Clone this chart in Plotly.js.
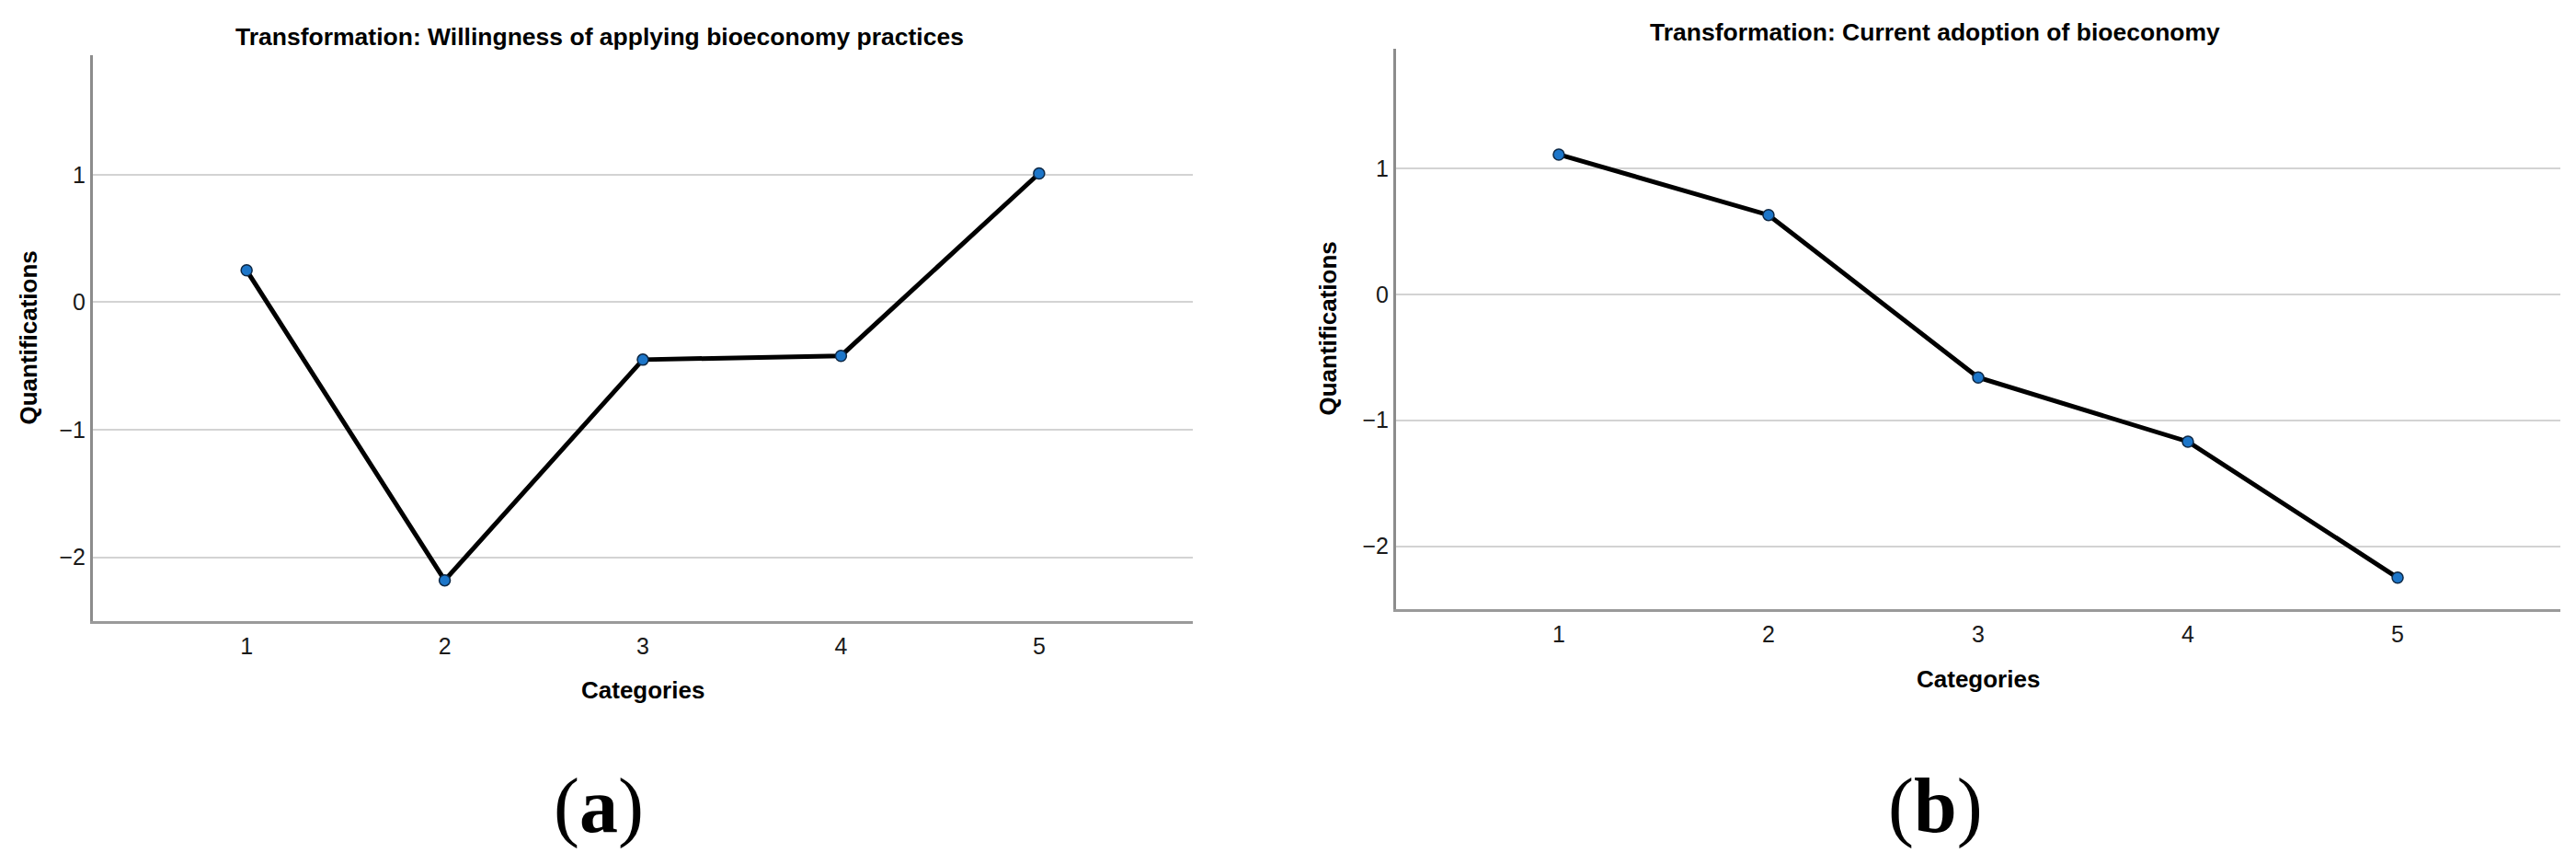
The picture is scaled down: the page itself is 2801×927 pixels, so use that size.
<!DOCTYPE html>
<html>
<head>
<meta charset="utf-8">
<script src="https://cdn.plot.ly/plotly-3.0.1.min.js"></script>
<style>
html,body{margin:0;padding:0;background:#fff;}
#chart{width:2801px;height:927px;}
</style>
</head>
<body>
<div id="chart"></div>
<script>
// ---- data ----
const categories = [1, 2, 3, 4, 5];
const willingnessValues = [0.25, -2.18, -0.45, -0.42, 1.01];
const adoptionValues = [1.11, 0.63, -0.66, -1.17, -2.25];
const yTickValues = [-2, -1, 0, 1];
const yTickLabels = ['\u22122', '\u22121', '0', '1'];
const titleA = 'Transformation: Willingness of applying bioeconomy practices';
const titleB = 'Transformation: Current adoption of bioeconomy';
const xTitle = 'Categories';
const yTitle = 'Quantifications';
const panelLabels = ['a', 'b'];

// ---- styling ----
const W = 2801, H = 927;
const narrow = '"Liberation Sans Narrow", "Arial Narrow", "Liberation Sans", Arial, sans-serif';
const serif = '"Liberation Serif", "Times New Roman", serif';

// plot boxes in pixels
const boxA = {x0: 101, x1: 1297, y0: 60, y1: 675};
const boxB = {x0: 1518, x1: 2784, y0: 53, y1: 662};
const px = v => v / W;
const py = v => 1 - v / H;

function lineTrace(y, xa, ya) {
  return {
    x: categories, y: y, xaxis: xa, yaxis: ya,
    type: 'scatter', mode: 'lines+markers',
    line: {color: '#000000', width: 5},
    marker: {size: 12, color: '#1d76c9', line: {color: '#0d2744', width: 1.5}},
    hoverinfo: 'x+y', showlegend: false
  };
}

function xAxis(box, anchor) {
  return {
    domain: [px(box.x0), px(box.x1)], anchor: anchor,
    range: [0.224, 5.776], tickvals: categories, ticktext: categories.map(String),
    showgrid: false, zeroline: false,
    showline: true, linecolor: '#9a9a9a', linewidth: 3,
    ticks: 'outside', ticklen: 3, tickcolor: 'rgba(0,0,0,0)',
    tickfont: {family: narrow, size: 25, color: '#1a1a1a'},
    fixedrange: true
  };
}
function yAxis(box, anchor, top) {
  return {
    domain: [py(box.y1), py(box.y0)], anchor: anchor,
    range: [-2.5, top], tickvals: yTickValues, ticktext: yTickLabels,
    showgrid: true, gridcolor: '#d3d3d3', gridwidth: 2,
    zeroline: false,
    showline: true, linecolor: '#8c8c8c', linewidth: 3,
    ticks: '',
    tickfont: {family: narrow, size: 25, color: '#1a1a1a'},
    fixedrange: true
  };
}

const data = [
  lineTrace(willingnessValues, 'x', 'y'),
  lineTrace(adoptionValues, 'x2', 'y2')
];

function ann(text, x, y, size, opts) {
  return Object.assign({
    xref: 'paper', yref: 'paper', x: px(x), y: py(y),
    xanchor: 'center', yanchor: 'middle', showarrow: false,
    text: text, font: {family: narrow, size: size, color: '#000'}
  }, opts || {});
}

const annotations = [
  ann('<b>' + titleA + '</b>', 652, 40, 26.5),
  ann('<b>' + titleB + '</b>', 2104, 35, 26.5),
  ann('<b>' + xTitle + '</b>', (boxA.x0 + boxA.x1) / 2, 750, 26),
  ann('<b>' + xTitle + '</b>', (boxB.x0 + boxB.x1) / 2, 738, 26),
  ann('<b>' + yTitle + '</b>', 30, (boxA.y0 + boxA.y1) / 2, 26, {textangle: -90}),
  ann('<b>' + yTitle + '</b>', 1443, (boxB.y0 + boxB.y1) / 2, 26, {textangle: -90}),
  ann('(<b>' + panelLabels[0] + '</b>)', 651, 876, 84, {font: {family: serif, size: 84, color: '#000'}}),
  ann('(<b>' + panelLabels[1] + '</b>)', 2104, 876, 84, {font: {family: serif, size: 84, color: '#000'}})
];

const layout = {
  width: W, height: H,
  margin: {l: 0, r: 0, t: 0, b: 0, pad: 0},
  paper_bgcolor: '#ffffff', plot_bgcolor: '#ffffff',
  showlegend: false,
  xaxis: xAxis(boxA, 'y'),
  yaxis: yAxis(boxA, 'x', 1.937),
  xaxis2: xAxis(boxB, 'y2'),
  yaxis2: yAxis(boxB, 'x2', 1.95),
  annotations: annotations
};

Plotly.newPlot('chart', data, layout, {displayModeBar: false, staticPlot: true});
</script>
</body>
</html>
